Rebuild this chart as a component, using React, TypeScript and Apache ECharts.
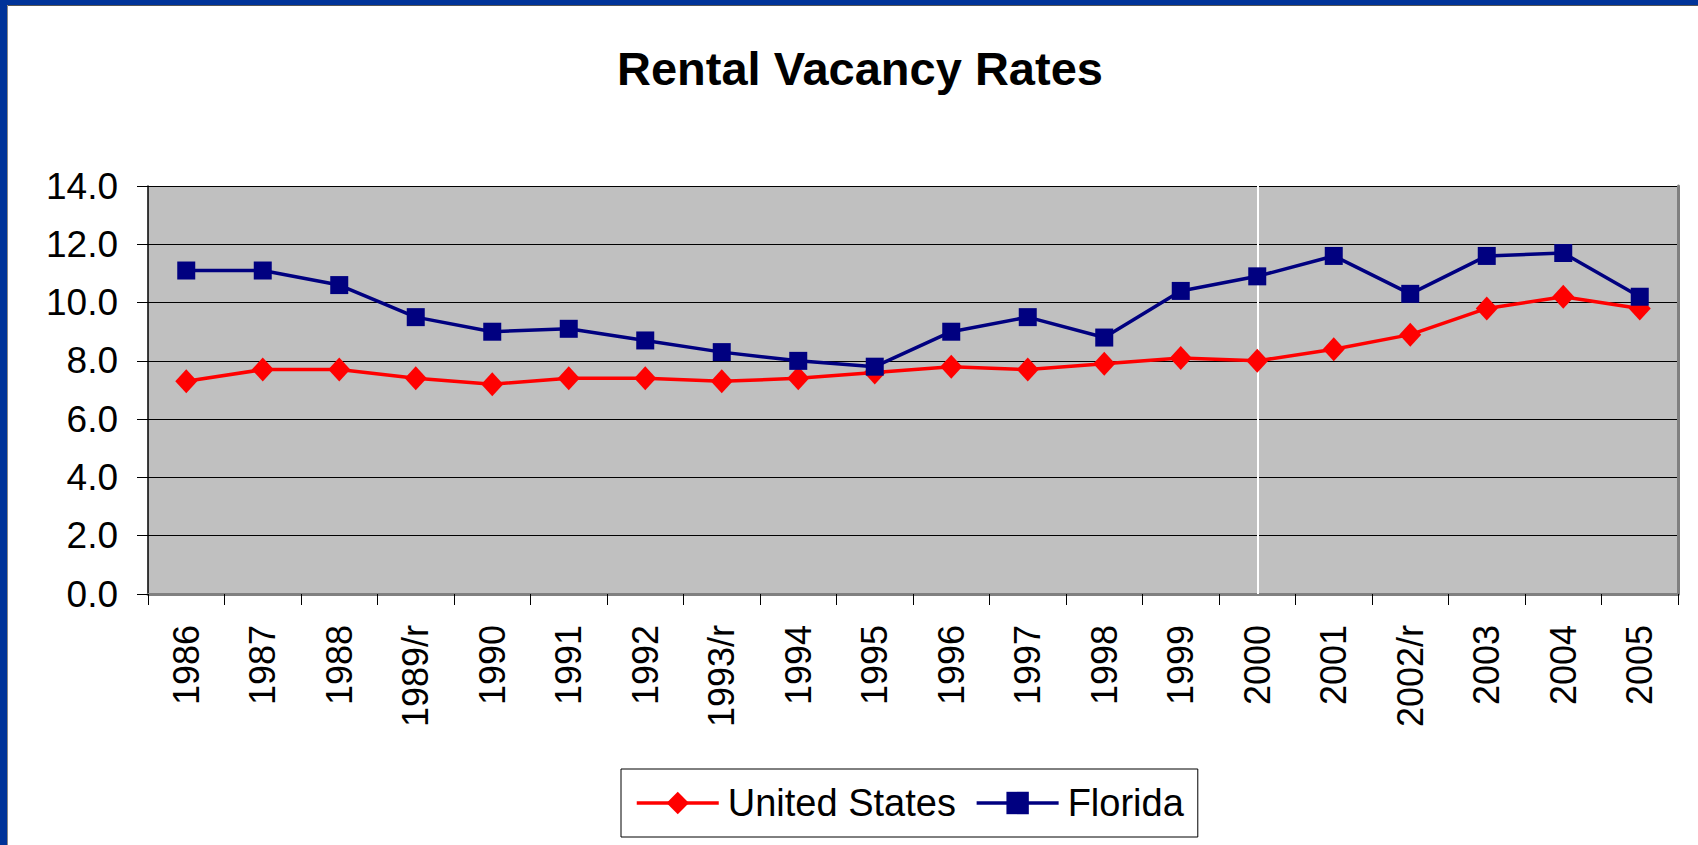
import React, { useEffect, useRef } from "react";
import * as echarts from "echarts";

const categories = ["1986", "1987", "1988", "1989/r", "1990", "1991", "1992", "1993/r", "1994", "1995", "1996", "1997", "1998", "1999", "2000", "2001", "2002/r", "2003", "2004", "2005"];
const unitedStates = [7.3, 7.7, 7.7, 7.4, 7.2, 7.4, 7.4, 7.3, 7.4, 7.6, 7.8, 7.7, 7.9, 8.1, 8.0, 8.4, 8.9, 9.8, 10.2, 9.8];
const florida = [11.1, 11.1, 10.6, 9.5, 9.0, 9.1, 8.7, 8.3, 8.0, 7.8, 9.0, 9.5, 8.8, 10.4, 10.9, 11.6, 10.3, 11.6, 11.7, 10.2];
const markedYear = "2000";

const FONT = "'Liberation Sans', Arial, sans-serif";

export default function App() {
  const ref = useRef<HTMLDivElement>(null);
  useEffect(() => {
    if (!ref.current) return;
    const chart = echarts.init(ref.current, null, { renderer: "svg" });
    chart.setOption({
      animation: false,
      backgroundColor: "#ffffff",
      title: {
        text: "Rental Vacancy Rates",
        left: 612,
        top: 40,
        textStyle: { fontFamily: FONT, fontSize: 47, fontWeight: "bold", color: "#000" },
      },
      legend: {
        left: 621,
        top: 769,
        padding: [14, 14, 14, 14],
        itemWidth: 82,
        itemHeight: 28,
        itemGap: 19,
        borderColor: "#000",
        borderWidth: 1,
        lineStyle: { width: 3.5 },
        textStyle: { fontFamily: FONT, fontSize: 38, color: "#000", padding: [0, 0, 0, 4], lineHeight: 40 },
        data: ["United States", "Florida"],
      },
      graphic: [
        { type: "rect", shape: { x: 0, y: 0, width: 1698, height: 5 }, style: { fill: "#003399" }, silent: true },
        { type: "rect", shape: { x: 0, y: 0, width: 7, height: 845 }, style: { fill: "#003399" }, silent: true },
        { type: "line", shape: { x1: 7.5, y1: 5.5, x2: 1698, y2: 5.5 }, style: { stroke: "#555", lineWidth: 1 }, silent: true },
        { type: "line", shape: { x1: 7.5, y1: 5.5, x2: 7.5, y2: 845 }, style: { stroke: "#888", lineWidth: 1 }, silent: true },
      ],
      grid: {
        left: 148,
        top: 186,
        right: 20,
        bottom: 251,
        show: true,
        backgroundColor: "#C0C0C0",
        borderWidth: 0,
        containLabel: false,
      },
      xAxis: [
        {
          type: "category",
          data: categories,
          boundaryGap: true,
          axisLine: { lineStyle: { color: "#000", width: 1.5 } },
          axisTick: { show: true, length: 11, alignWithLabel: false, interval: 0, lineStyle: { color: "#000", width: 1 } },
          axisLabel: { interval: 0, rotate: 90, margin: 31, fontFamily: FONT, fontSize: 36, color: "#000" },
          splitLine: { show: false },
        },
        {
          type: "category",
          data: categories,
          position: "top",
          axisLine: { lineStyle: { color: "#808080", width: 3 } },
          axisTick: { show: false },
          axisLabel: { show: false },
          splitLine: { show: false },
        },
      ],
      yAxis: [
        {
          type: "value",
          min: 0,
          max: 14,
          interval: 2,
          axisLine: { show: true, lineStyle: { color: "#000", width: 1.5 } },
          axisTick: { show: true, length: 11, lineStyle: { color: "#000", width: 1 } },
          axisLabel: {
            margin: 30,
            fontFamily: FONT,
            fontSize: 37,
            color: "#000",
            formatter: (v: number) => v.toFixed(1),
          },
          splitLine: { show: true, lineStyle: { color: "#000", width: 1 } },
        },
        {
          type: "value",
          min: 0,
          max: 14,
          interval: 2,
          position: "right",
          axisLine: { show: true, lineStyle: { color: "#808080", width: 3 } },
          axisTick: { show: false },
          axisLabel: { show: false },
          splitLine: { show: false },
        },
      ],
      series: [
        {
          name: "United States",
          type: "line",
          data: unitedStates,
          symbol: "diamond",
          symbolSize: [22, 24],
          itemStyle: { color: "#FF0000" },
          lineStyle: { color: "#FF0000", width: 3.5 },
          z: 3,
          markLine: {
            silent: true,
            symbol: "none",
            label: { show: false },
            lineStyle: { color: "#ffffff", width: 2, type: "solid" },
            data: [{ xAxis: markedYear }],
            z: 1,
          },
        },
        {
          name: "Florida",
          type: "line",
          data: florida,
          symbol: "rect",
          symbolSize: 18,
          itemStyle: { color: "#000080" },
          lineStyle: { color: "#000080", width: 3.5 },
          z: 4,
        },
      ],
    });
    return () => chart.dispose();
  }, []);
  return (
    <div
      ref={ref}
      style={{ position: "absolute", left: 0, top: 0, width: 1698, height: 845 }}
    />
  );
}
